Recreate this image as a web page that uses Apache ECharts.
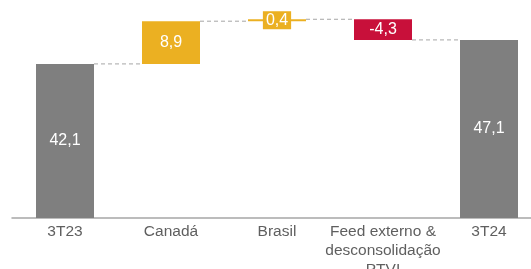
<!DOCTYPE html>
<html>
<head>
<meta charset="utf-8">
<script src="https://cdn.jsdelivr.net/npm/echarts@6/dist/echarts.min.js"></script>
<style>
  html, body { margin: 0; padding: 0; background: #fff; }
  #chart { width: 531px; height: 269px; }
</style>
</head>
<body>
<div id="chart"></div>
<script>
// categorias
const categorias = ['3T23', 'Canadá', 'Brasil', 'Feed externo &\ndesconsolidação\nPTVI', '3T24']
// variações (primeiro e último são totais)
const valores = [42.1, 8.9, 0.4, -4.3, 47.1]
const totais = [true, false, false, false, true]
// cores
const corTotal = '#7f7f7f'
const corPositivo = '#ebb022'
const corNegativo = '#c8103a'

// monta base invisível, barra visível e níveis das ligações
const base = []
const barras = []
const niveis = []
let nivel = 0
valores.forEach((v, i) => {
  if (totais[i]) {
    base.push(0)
    nivel = v
  } else if (v >= 0) {
    base.push(nivel)
    nivel = nivel + v
  } else {
    nivel = nivel + v
    base.push(nivel)
  }
  barras.push({
    value: Math.abs(v),
    itemStyle: {color: totais[i] ? corTotal : (v >= 0 ? corPositivo : corNegativo)}
  })
  if (i < valores.length - 1) niveis.push([i, Math.round(nivel * 10) / 10])
})
// rótulo pequeno do Brasil com fundo
barras[2].label = {backgroundColor: corPositivo, padding: [1, 3]}

const larguraBarra = 58
const chart = echarts.init(document.getElementById('chart'))
chart.setOption({
  animation: false,
  grid: {left: 12, right: -11, top: 2, bottom: 51, outerBoundsMode: 'none', containLabel: false},
  xAxis: {
    type: 'category',
    data: categorias,
    axisTick: {show: false},
    axisLine: {lineStyle: {color: '#a6a6a6', width: 1.5}},
    axisLabel: {
      color: '#5f5f5f',
      fontSize: 15.5,
      fontFamily: 'Liberation Sans, Arial, sans-serif',
      lineHeight: 19,
      margin: 4,
      interval: 0
    }
  },
  yAxis: {
    type: 'value',
    min: 10,
    max: 55,
    show: false
  },
  series: [
    {
      type: 'bar',
      stack: 'wf',
      barWidth: larguraBarra,
      itemStyle: {color: 'transparent'},
      data: base
    },
    {
      type: 'bar',
      stack: 'wf',
      barWidth: larguraBarra,
      label: {
        show: true,
        position: 'inside',
        color: '#fff',
        fontSize: 16,
        fontFamily: 'Liberation Sans, Arial, sans-serif',
        formatter: (p) => String(valores[p.dataIndex]).replace('.', ',')
      },
      data: barras
    },
    {
      // linhas tracejadas entre as barras
      type: 'custom',
      z: 1,
      renderItem: (params, api) => {
        const i = api.value(0)
        const v = api.value(1)
        const p1 = api.coord([i, v])
        const p2 = api.coord([i + 1, v])
        return {
          type: 'line',
          shape: {x1: p1[0] + larguraBarra / 2, y1: p1[1], x2: p2[0] - larguraBarra / 2, y2: p2[1]},
          style: {stroke: '#a6a6a6', lineWidth: 1, lineDash: [4, 3]}
        }
      },
      data: niveis
    }
  ]
})
</script>
</body>
</html>
